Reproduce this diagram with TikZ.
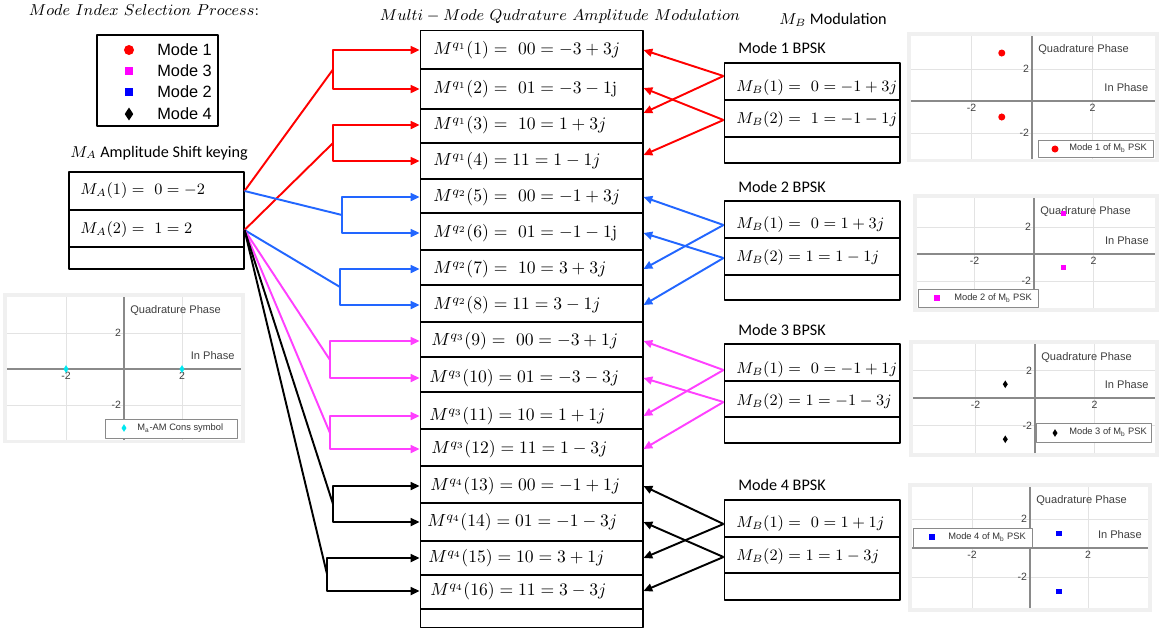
\documentclass[tikz,border=0pt]{standalone}
\usepackage{fontspec}
\setsansfont{Liberation Sans}
\newfontfamily\calibri{Carlito}
\usepackage{tikz}
\usetikzlibrary{arrows.meta,calc,shapes.geometric}
\definecolor{qred}{HTML}{FF0000}
\definecolor{qblue}{HTML}{2266FF}
\definecolor{qmagenta}{HTML}{FF40FF}
\definecolor{qcyan}{HTML}{00E8F0}
\definecolor{plotblue}{HTML}{0000FF}
\definecolor{plotmag}{HTML}{FF00FF}
\definecolor{gridgray}{HTML}{E3E3E3}
\definecolor{axisgray}{HTML}{8A8A8A}
\definecolor{labelgray}{HTML}{404040}
\definecolor{framegray}{HTML}{F0F0F0}
\tikzset{
  every picture/.style={line join=round, >={Triangle[length=5pt,width=4.5pt]}},
  conn/.style={line width=1.1pt},
  boxline/.style={line width=0.6pt},
  cell/.style={anchor=west, inner sep=0pt, font=\fontsize{9.8}{12}\selectfont},
  bcell/.style={anchor=west, inner sep=0pt, font=\fontsize{8.8}{11}\selectfont},
  ttl/.style={inner sep=0pt, font=\fontsize{8.8}{11}\selectfont},
  lbl/.style={inner sep=0pt, font=\calibri\fontsize{9.2}{11}\selectfont},
  legtext/.style={anchor=west, inner sep=0pt, font=\sffamily\fontsize{9.3}{11}\selectfont},
  ticklbl/.style={inner sep=1.5pt, text=labelgray, font=\sffamily\fontsize{6}{7}\selectfont},
  axtitle/.style={inner sep=0pt, text=labelgray, font=\sffamily\fontsize{6.3}{7}\selectfont},
  plotleg/.style={draw=axisgray, fill=white, line width=0.4pt, inner sep=0pt},
  plotlegtext/.style={anchor=west, inner sep=0pt, text=black!80, font=\sffamily\fontsize{5.3}{6}\selectfont},
  gridline/.style={draw=gridgray, line width=0.5pt},
  axisline/.style={draw=axisgray, line width=0.7pt},
  dotmark/.style={circle, fill, inner sep=0pt, minimum size=#1},
  sqmark/.style={rectangle, fill, inner sep=0pt, minimum size=#1},
  dmmark/.style={diamond, fill, inner sep=0pt, minimum width=#1, minimum height=1.5*#1},
}
% one constellation frame, in data units of the enclosing scope
\newcommand{\iqframe}[4]{%
  \fill[framegray] ([xshift=-2.5pt,yshift=-2pt]#1,#3) rectangle ([xshift=2.5pt,yshift=2.5pt]#2,#4);
  \fill[white] (#1,#3) rectangle (#2,#4);
  \draw[gridline] (-2,#3) -- (-2,#4) (2,#3) -- (2,#4) (#1,-2) -- (#2,-2) (#1,2) -- (#2,2);
  \draw[axisline] (#1,0) -- (#2,0) (0,#3) -- (0,#4);
  \node (tkxa) [ticklbl, below] at (-2,0) {-2};
  \node (tkxb) [ticklbl, below] at (2,0) {2};
  \node (tkya) [ticklbl, left] at (0,2) {2};
  \node (tkyb) [ticklbl, left] at (0,-2) {-2};
  \node (qtitle) [axtitle, anchor=north west] at ([xshift=3.4pt,yshift=-4.5pt]0,#4) {Quadrature Phase};
  \node (ititle) [axtitle, anchor=east] at ([xshift=-3.4pt,yshift=7.4pt]#2,0) {In Phase};
}
\begin{document}
\begin{tikzpicture}[x=0.02cm, y=-0.02cm]
\fill[white] (0,0) rectangle (1162,633);
\useasboundingbox (0,0) rectangle (1162,633);

% titles
\node (selttl) [ttl] at (144,10) {$Mode\ Index\ Selection\ Process{:}$};
\node (qamttl) [ttl] at (560,17) {$Multi-Mode\ Qudrature\ Amplitude\ Modulation$};
\node (mbttl) [lbl] at (833,20) {$M_B$ Modulation};
\node (mattl) [lbl, anchor=west] at (70,153) {$M_A$ Amplitude Shift keying};

% mode legend
\node (leg) [draw, boxline, minimum width=2.42cm, minimum height=1.82cm, inner sep=0pt] at (157.5,80.5) {};
\node (lm1) [dotmark=5.7pt, qred] at (129,50) {};
\node (lm3) [sqmark=4pt, plotmag] at (129,71) {};
\node (lm2) [sqmark=4pt, plotblue] at (129,92) {};
\node (lm4) [dmmark=5pt, black] at (129,114) {};
\node (lt1) [legtext] at (157,50) {Mode 1};
\node (lt3) [legtext] at (157,71) {Mode 3};
\node (lt2) [legtext] at (157,92) {Mode 2};
\node (lt4) [legtext] at (157,114) {Mode 4};

% M_A box
\node (ma) [draw, boxline, minimum width=3.5cm, minimum height=1.94cm, inner sep=0pt] at (156.5,220.5) {};
\draw[boxline] (69,210) -- (244,210) (69,247) -- (244,247);
\node (a1) [bcell] at (80,191) {$M_A(1) =\ 0 = -2$};
\node (a2) [bcell] at (80,230) {$M_A(2) =\ 1 = 2$};

% QAM table
\node (tab) [draw, boxline, minimum width=4.46cm, minimum height=11.96cm, inner sep=0pt] at (531.5,329) {};
\foreach \y in {69,109,143,179,213,250,285,322,357,392,429,466,503,541,575,609}
  \draw[boxline] (420,\y) -- (643,\y);
\node (q1)  [cell] at (433,50)  {$M^{q_1}(1) =\ 00 = -3+3j$};
\node (q2)  [cell] at (433,89)  {$M^{q_1}(2) =\ 01 = -3-1\mathrm{j}$};
\node (q3)  [cell] at (433,125) {$M^{q_1}(3) =\ 10 = 1+3j$};
\node (q4)  [cell] at (433,161) {$M^{q_1}(4) = 11 = 1-1j$};
\node (q5)  [cell] at (433,197) {$M^{q_2}(5) =\ 00 = -1+3j$};
\node (q6)  [cell] at (433,233) {$M^{q_2}(6) =\ 01 = -1-1\mathrm{j}$};
\node (q7)  [cell] at (433,269) {$M^{q_2}(7) =\ 10 = 3+3j$};
\node (q8)  [cell] at (433,305) {$M^{q_2}(8) = 11 = 3-1j$};
\node (q9)  [cell] at (431,341) {$M^{q_3}(9) =\ 00 = -3+1j$};
\node (q10) [cell] at (429,378) {$M^{q_3}(10) ={}01 = -3-3j$};
\node (q11) [cell] at (429,416) {$M^{q_3}(11) = 10 = 1+1j$};
\node (q12) [cell] at (431,449) {$M^{q_3}(12) ={}11 = 1-3j$};
\node (q13) [cell] at (430,486) {$M^{q_4}(13) ={}00 = -1+1j$};
\node (q14) [cell] at (427,522) {$M^{q_4}(14) ={}01 = -1-3j$};
\node (q15) [cell] at (428,558) {$M^{q_4}(15) = 10 = 3+1j$};
\node (q16) [cell] at (430,591) {$M^{q_4}(16) = 11 = 3-3j$};

% M_B boxes
\node (mb1lbl) [lbl, anchor=west] at (738,48) {Mode 1 BPSK};
\node (mb1) [draw, boxline, minimum width=3.52cm, minimum height=2cm, inner sep=0pt] at (812,113) {};
\draw[boxline] (724,100) -- (900,100) (724,137) -- (900,137);
\node (b11) [bcell] at (736,88)  {$M_B(1) =\ 0 = -1+3j$};
\node (b12) [bcell] at (736,120) {$M_B(2) =\ 1 = -1-1j$};

\node (mb2lbl) [lbl, anchor=west] at (738,187) {Mode 2 BPSK};
\node (mb2) [draw, boxline, minimum width=3.52cm, minimum height=1.98cm, inner sep=0pt] at (812,250.5) {};
\draw[boxline] (724,238) -- (900,238) (724,275) -- (900,275);
\node (b21) [bcell] at (736,225) {$M_B(1) =\ 0 = 1+3j$};
\node (b22) [bcell] at (736,258) {$M_B(2) = 1 = 1-1j$};

\node (mb3lbl) [lbl, anchor=west] at (738,330) {Mode 3 BPSK};
\node (mb3) [draw, boxline, minimum width=3.52cm, minimum height=1.98cm, inner sep=0pt] at (812,393.5) {};
\draw[boxline] (724,381) -- (900,381) (724,417) -- (900,417);
\node (b31) [bcell] at (736,370) {$M_B(1) =\ 0 = -1+1j$};
\node (b32) [bcell] at (736,402) {$M_B(2) = 1 = -1-3j$};

\node (mb4lbl) [lbl, anchor=west] at (738,485) {Mode 4 BPSK};
\node (mb4) [draw, boxline, minimum width=3.52cm, minimum height=2cm, inner sep=0pt] at (812,550) {};
\draw[boxline] (724,537) -- (900,537) (724,573) -- (900,573);
\node (b41) [bcell] at (736,524) {$M_B(1) =\ 0 = 1+1j$};
\node (b42) [bcell] at (736,557) {$M_B(2) = 1 = 1-3j$};

% M_A -> QAM rows
\coordinate (kr1) at (333,69.5);
\coordinate (kr2) at (333,143);
\coordinate (kb1) at (342,215);
\coordinate (kb2) at (340,287);
\coordinate (km1) at (330,360);
\coordinate (km2) at (330,433);
\coordinate (kk1) at (333,504);
\coordinate (kk2) at (327,574);
\foreach \k/\s/\ra/\rb/\c in {kr1/a1/q1/q2/qred, kr2/a2/q3/q4/qred, kb1/a1/q5/q6/qblue, kb2/a2/q7/q8/qblue,
    km1/a2/q9/q10/qmagenta, km2/a2/q11/q12/qmagenta, kk1/a2/q13/q14/black, kk2/a2/q15/q16/black}{
  \draw[conn, \c] (ma.east |- \s) -- (\k);
  \draw[conn, \c, <->] (tab.west |- \ra) -- (\k |- \ra) -- (\k |- \rb) -- (tab.west |- \rb);
}

% M_B -> QAM rows
\draw[conn, qred, ->] ($(mb1.west |- b11)+(0,-12)$) -- (tab.east |- q1);
\draw[conn, qred, ->] ($(mb1.west |- b11)+(0,-12)$) -- ($(tab.east |- q3)+(0,-12)$);
\draw[conn, qred, ->] (mb1.west |- b12) -- ($(tab.east |- q2)+(0,-1)$);
\draw[conn, qred, ->] (mb1.west |- b12) -- ($(tab.east |- q4)+(0,-6)$);
\foreach \s/\r/\c in {b21/q5/qblue, b21/q7/qblue, b22/q6/qblue, b22/q8/qblue,
    b31/q9/qmagenta, b31/q11/qmagenta, b32/q10/qmagenta, b32/q12/qmagenta,
    b41/q13/black, b41/q15/black, b42/q14/black, b42/q16/black}
  \draw[conn, \c, ->] (mb2.west |- \s) -- (tab.east |- \r);

% M_A constellation
\begin{scope}[shift={(124,369)}, x=0.58cm, y=0.36cm]
  \iqframe{-4.03}{4.03}{-3.94}{4}
  \node (pa1) [dmmark=3pt, qcyan] at (-2,0) {};
  \node (pa2) [dmmark=3pt, qcyan] at (2,0) {};
\end{scope}
\node (lg0) [plotleg, minimum width=2.64cm, minimum height=0.38cm] at (171,428.5) {};
\node (lg0m) [dmmark=3pt, qcyan] at (124,428) {};
\node (lg0t) [plotlegtext] at (137,428) {M\textsubscript{a}-AM Cons symbol};

% mode 1 constellation
\begin{scope}[shift={(1032,101)}, x=0.605cm, y=0.32cm]
  \iqframe{-4}{4.05}{-3.6}{4.06}
  \node (p11) [dotmark=4pt, qred] at (-1,3) {};
  \node (p12) [dotmark=4pt, qred] at (-1,-1) {};
\end{scope}
\node (lg1) [plotleg, minimum width=2.3cm, minimum height=0.34cm] at (1095.5,148.5) {};
\node (lg1m) [dotmark=4pt, qred] at (1055,149) {};
\node (lg1t) [plotlegtext] at (1069,148) {Mode 1 of M\textsubscript{b} PSK};

% mode 2 constellation
\begin{scope}[shift={(1034,254)}, x=0.595cm, y=0.27cm]
  \iqframe{-3.93}{4.07}{-4.0}{4.15}
  \node (p21) [sqmark=3pt, plotmag] at (1,3) {};
  \node (p22) [sqmark=3pt, plotmag] at (1,-1) {};
\end{scope}
\node (lg2) [plotleg, minimum width=2.4cm, minimum height=0.36cm] at (978,298) {};
\node (lg2m) [sqmark=3pt, plotmag] at (937,298) {};
\node (lg2t) [plotlegtext] at (954,298) {Mode 2 of M\textsubscript{b} PSK};

% mode 3 constellation
\begin{scope}[shift={(1035,398)}, x=0.595cm, y=0.275cm]
  \iqframe{-4.1}{4.03}{-4.0}{3.93}
  \node (p31) [dmmark=3pt, black] at (-1,1) {};
  \node (p32) [dmmark=3pt, black] at (-1,-3) {};
\end{scope}
\node (lg3) [plotleg, minimum width=2.3cm, minimum height=0.38cm] at (1093.5,432.5) {};
\node (lg3m) [dmmark=3pt, black] at (1055,433) {};
\node (lg3t) [plotlegtext] at (1069,432) {Mode 3 of M\textsubscript{b} PSK};

% mode 4 constellation
\begin{scope}[shift={(1030,548)}, x=0.58cm, y=0.29cm]
  \iqframe{-4.07}{4.07}{-4.14}{4.2}
  \node (p41) [sqmark=3pt, plotblue] at (1,1) {};
  \node (p42) [sqmark=3pt, plotblue] at (1,-3) {};
\end{scope}
\node (lg4) [plotleg, minimum width=2.38cm, minimum height=0.38cm] at (972.5,537.5) {};
\node (lg4m) [sqmark=3pt, plotblue] at (932,537) {};
\node (lg4t) [plotlegtext] at (948,537) {Mode 4 of M\textsubscript{b} PSK};
\end{tikzpicture}
\end{document}
